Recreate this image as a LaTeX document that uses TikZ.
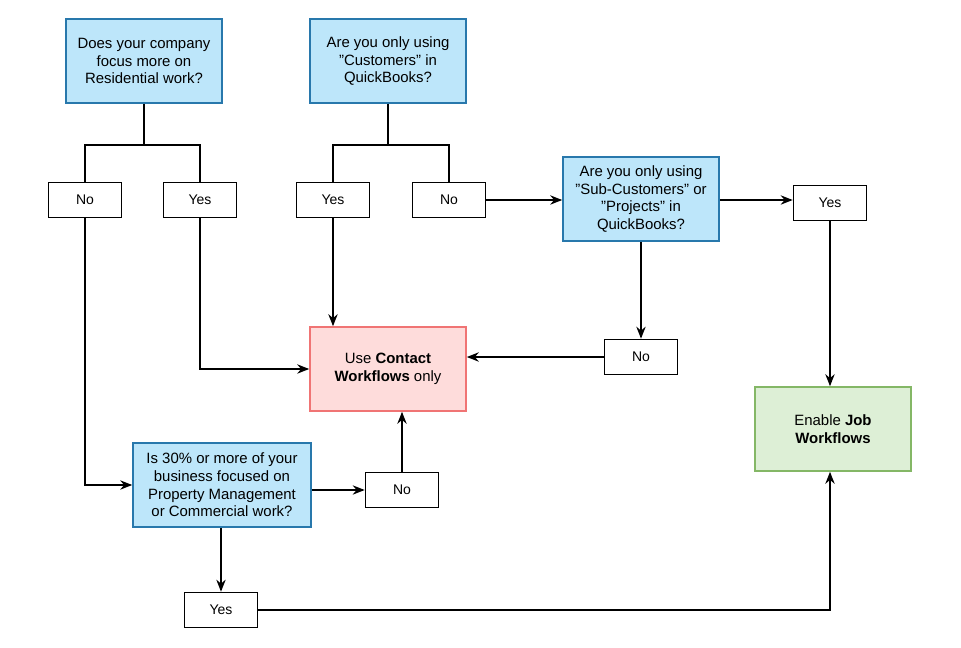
\documentclass[tikz,border=0pt]{standalone}
\usepackage{fontspec}
\setmainfont{Liberation Sans}
\usetikzlibrary{arrows.meta}
\definecolor{qfill}{HTML}{BDE6FA}
\definecolor{qdraw}{HTML}{2878AC}
\definecolor{rfill}{HTML}{FEDCDB}
\definecolor{rdraw}{HTML}{F07474}
\definecolor{gfill}{HTML}{DDEFD6}
\definecolor{gdraw}{HTML}{84B766}
\newcommand{\dq}{{\char34}}
\begin{document}
\begin{tikzpicture}[x=0.75pt,y=-0.75pt,
  q/.style={draw=qdraw,fill=qfill,line width=1.2pt,minimum width=156*0.75pt,minimum height=84*0.75pt,align=center,font=\fontsize{11.2}{13.2}\selectfont,inner sep=1pt},
  a/.style={draw,line width=1.2pt,minimum width=73*0.75pt,minimum height=35*0.75pt,font=\fontsize{10.5}{12}\selectfont,inner sep=0pt},
  ln/.style={line width=1.2pt},
  ar/.style={line width=1.2pt,-{Stealth[length=9pt,width=7pt]}}]
\useasboundingbox (0,0) rectangle (961,647);
\node[q] (q1) at (144,61) {Does your company\\focus more on\\Residential work?};
\node[q] (q2) at (388,61) {Are you only using\\\dq Customers\dq\ in\\QuickBooks?};
\node[q] (q3) at (641,199) {Are you only using\\\dq Sub-Customers\dq\ or\\\dq Projects\dq\ in\\QuickBooks?};
\node[q,minimum width=178*0.75pt] (q4) at (222,485) {Is 30\% or more of your\\business focused on\\Property Management\\or Commercial work?};
\node[q,draw=rdraw,fill=rfill] (use) at (388,369) {Use \textbf{Contact}\\\textbf{Workflows} only};
\node[q,draw=gdraw,fill=gfill] (job) at (833,429) {Enable \textbf{Job}\\\textbf{Workflows}};
\node[a] (no1) at (85,200) {No};
\node[a] (yes1) at (200,200) {Yes};
\node[a] (yes2) at (333,200) {Yes};
\node[a] (no2) at (449,200) {No};
\node[a] (yes3) at (830,203) {Yes};
\node[a] (no3) at (641,357) {No};
\node[a] (no4) at (402,490) {No};
\node[a] (yes4) at (221,610) {Yes};
\coordinate (j1) at (144,145);
\coordinate (j2) at (388,145);
\draw[ln] (q1) -- (j1);
\draw[ln] (no1.north) |- (j1) -| (yes1.north);
\draw[ln] (q2) -- (j2);
\draw[ln] (yes2.north) |- (j2) -| (no2.north);
\draw[ar] (yes2) -- (use.north -| yes2);
\draw[ar] (yes1.south) |- (use.west);
\draw[ar] (no2) -- (q3.west |- no2);
\draw[ar] (q3.east |- no2) -- (yes3.west |- no2);
\draw[ar] (yes3) -- (job.north -| yes3);
\draw[ar] (q3) -- (no3);
\draw[ar] (no3) -- (use.east |- no3);
\draw[ar] (no1.south) |- (q4.west);
\draw[ar] (q4.east |- no4) -- (no4);
\draw[ar] (no4) -- (use.south -| no4);
\draw[ar] (q4.south -| yes4) -- (yes4);
\draw[ar] (yes4.east) -| (job.south -| yes3);
\end{tikzpicture}
\end{document}
